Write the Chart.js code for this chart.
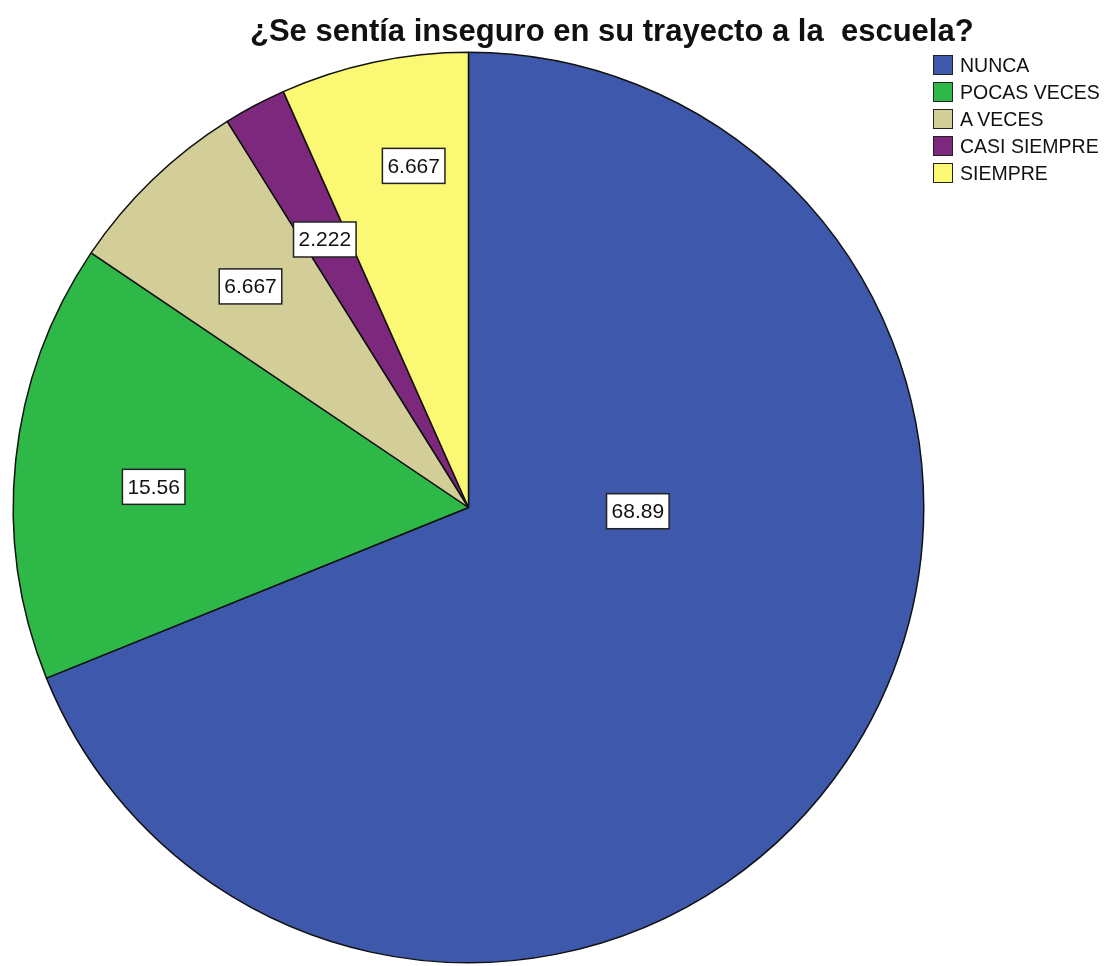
<!DOCTYPE html>
<html>
<head>
<meta charset="utf-8">
<script src="https://cdn.jsdelivr.net/npm/chart.js@4/dist/chart.umd.min.js"></script>
<style>
  html, body { margin: 0; padding: 0; background: #fff; }
  #wrap { position: relative; width: 1112px; height: 966px; overflow: hidden; }
  #title {
    position: absolute; left: 250px; top: 15px;
    font: bold 31px "Liberation Sans", Arial, sans-serif; line-height: 31px;
    white-space: pre; color: #111;
  }
  #legend { position: absolute; left: 933px; top: 55px; }
  .item { display: flex; align-items: center; height: 20px; margin-bottom: 7px;
    font: 19.5px "Liberation Sans", Arial, sans-serif; color: #111; white-space: pre; }
  .swatch { width: 18px; height: 18px; border: 1px solid #222; margin-right: 7px; }
</style>
</head>
<body>
<div id="wrap">
  <canvas id="pie" width="1112" height="966"></canvas>
  <div id="title">¿Se sentía inseguro en su trayecto a la  escuela?</div>
  <div id="legend"></div>
</div>
<script>
// categories and percentages
const categories = ['NUNCA', 'POCAS VECES', 'A VECES', 'CASI SIEMPRE', 'SIEMPRE'];
const percents = [68.89, 15.56, 6.667, 2.222, 6.667];
const valueLabels = ['68.89', '15.56', '6.667', '2.222', '6.667'];
const colors = ['#3E58AC', '#2EB848', '#D3CE97', '#7C287D', '#FBF873'];

// where each value label sits inside its slice (fraction of arc, fraction of radius)
const labelSpot = [
  { along: 0.368, out: 0.372 },
  { along: 0.46, out: 0.693 },
  { along: 0.475, out: 0.682 },
  { along: 0.475, out: 0.668 },
  { along: 0.62, out: 0.76 }
];

// html legend
const legendDiv = document.getElementById('legend');
categories.forEach(function (name, i) {
  const row = document.createElement('div');
  row.className = 'item';
  row.innerHTML = '<span class="swatch" style="background:' + colors[i] + '"></span>' + name;
  legendDiv.appendChild(row);
});

const boxLabels = {
  id: 'boxLabels',
  afterDatasetsDraw(chart) {
    const ctx = chart.ctx;
    const arcs = chart.getDatasetMeta(0).data;
    ctx.save();
    ctx.font = '21px "Liberation Sans", Arial, sans-serif';
    ctx.textAlign = 'center';
    ctx.textBaseline = 'middle';
    arcs.forEach(function (arc, i) {
      const a = arc.startAngle + labelSpot[i].along * (arc.endAngle - arc.startAngle);
      const r = labelSpot[i].out * arc.outerRadius;
      const x = arc.x + Math.cos(a) * r;
      const y = arc.y + Math.sin(a) * r;
      const w = ctx.measureText(valueLabels[i]).width + 10;
      const h = 35;
      ctx.fillStyle = '#fff';
      ctx.fillRect(x - w / 2, y - h / 2, w, h);
      ctx.lineWidth = 1.5;
      ctx.strokeStyle = '#222';
      ctx.strokeRect(x - w / 2, y - h / 2, w, h);
      ctx.fillStyle = '#111';
      ctx.fillText(valueLabels[i], x, y + 1);
    });
    ctx.restore();
  }
};

new Chart(document.getElementById('pie'), {
  type: 'pie',
  data: {
    labels: categories,
    datasets: [{
      data: percents,
      backgroundColor: colors,
      borderColor: '#111',
      borderWidth: 1.5,
      hoverOffset: 0
    }]
  },
  options: {
    responsive: false,
    animation: false,
    layout: { padding: { left: 12.5, top: 51.5, right: 187.5, bottom: 2.5 } },
    plugins: {
      legend: { display: false },
      title: { display: false },
      tooltip: { enabled: false }
    }
  },
  plugins: [boxLabels]
});
</script>
</body>
</html>
